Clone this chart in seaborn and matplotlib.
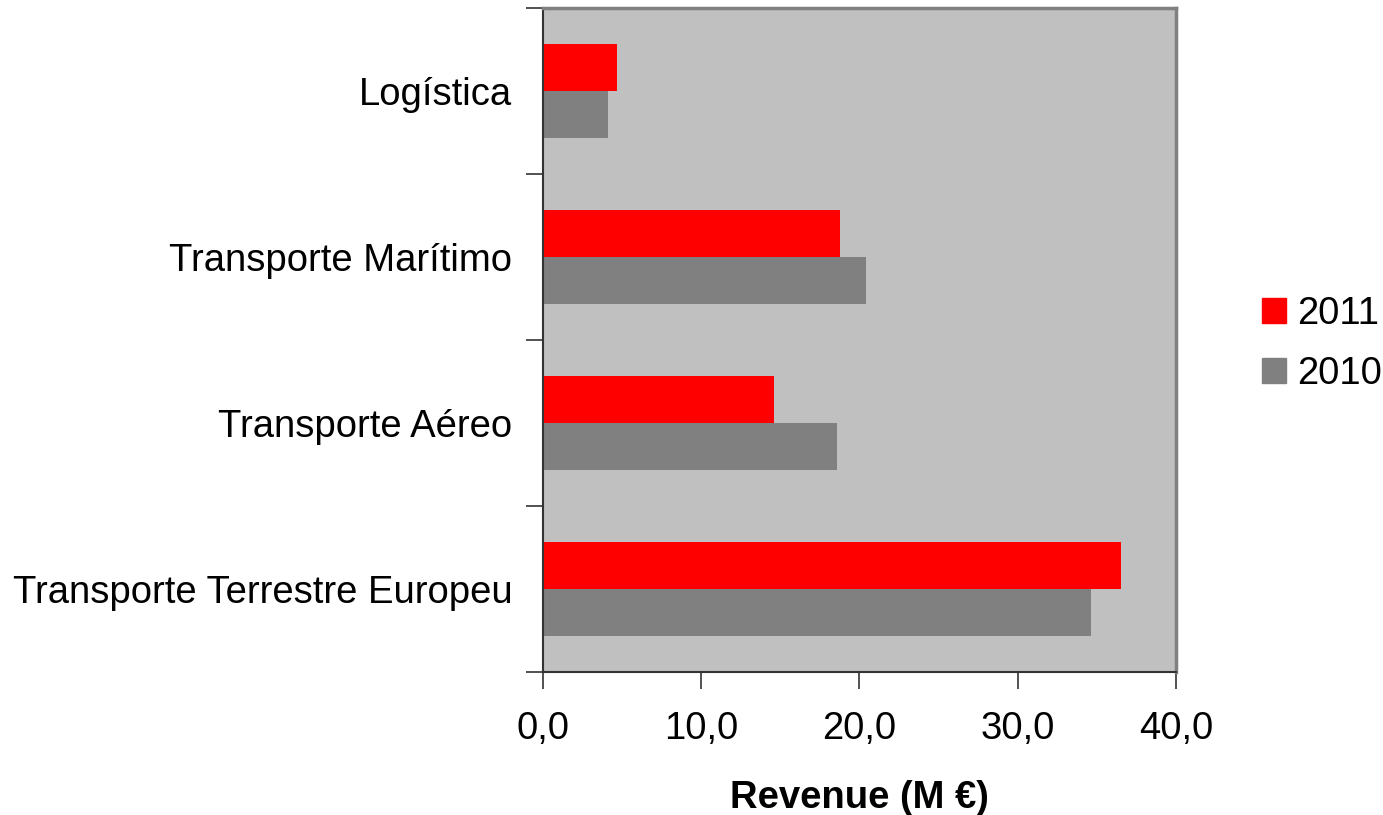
import matplotlib.pyplot as plt
import matplotlib.ticker as mticker
from matplotlib.patches import Patch
import seaborn as sns
import pandas as pd

categorias = ['Logística', 'Transporte Marítimo', 'Transporte Aéreo', 'Transporte Terrestre Europeu']
receita_2011 = [4.7, 18.8, 14.6, 36.5]
receita_2010 = [4.1, 20.4, 18.6, 34.6]
anos = ['2011', '2010']
cores = {'2011': '#FF0000', '2010': '#808080'}

dados = pd.DataFrame({
    'Categoria': categorias * 2,
    'Ano': ['2011'] * 4 + ['2010'] * 4,
    'Receita': receita_2011 + receita_2010,
})

sns.set_style('white')
plt.rcParams['font.family'] = ['Liberation Sans', 'DejaVu Sans']
plt.rcParams['text.color'] = 'black'
plt.rcParams['xtick.labelcolor'] = 'black'
plt.rcParams['ytick.labelcolor'] = 'black'
plt.rcParams['axes.labelcolor'] = 'black'

fs = 27.5

fig = plt.figure(figsize=(13.83, 8.15), dpi=100)
ax = fig.add_axes([0.3926, 0.1755, 0.4577, 0.8145])

sns.barplot(data=dados, y='Categoria', x='Receita', hue='Ano', order=categorias,
            hue_order=anos, palette=cores, orient='h', width=0.57, dodge=True,
            saturation=1, linewidth=0, legend=False, ax=ax)

ax.set_facecolor('#C0C0C0')
ax.set_xlim(0, 40)
ax.set_ylim(3.5, -0.5)

# ticks nos limites das categorias, rótulos no centro
ax.set_yticks([-0.5, 0.5, 1.5, 2.5, 3.5])
ax.set_yticklabels([])
ax.set_yticks(range(len(categorias)), minor=True)
ax.set_yticklabels(categorias, minor=True, fontsize=fs)
ax.tick_params(axis='y', which='major', length=12, width=1.2, color='#333333', left=True)
ax.tick_params(axis='y', which='minor', length=0, pad=22)

ax.set_xticks([0, 10, 20, 30, 40])
ax.xaxis.set_major_formatter(mticker.FuncFormatter(lambda v, p: f'{v:.1f}'.replace('.', ',')))
ax.tick_params(axis='x', length=12, width=1.2, color='#333333', labelsize=fs, pad=16, bottom=True)

ax.set_xlabel('Revenue (M €)', fontsize=fs, fontweight='bold', labelpad=24)
ax.set_ylabel('')

for lado in ['top', 'right']:
    ax.spines[lado].set_color('#808080')
    ax.spines[lado].set_linewidth(2.5)
for lado in ['left', 'bottom']:
    ax.spines[lado].set_color('#333333')
    ax.spines[lado].set_linewidth(1.5)

handles = [Patch(color=cores[a], label=a) for a in anos]
fig.legend(handles=handles, loc='center left', bbox_to_anchor=(0.8875, 0.578), frameon=False,
           fontsize=fs, handlelength=0.63, handleheight=0.63, handletextpad=0.3, labelspacing=0.65)

plt.savefig('out.png', dpi=100)
